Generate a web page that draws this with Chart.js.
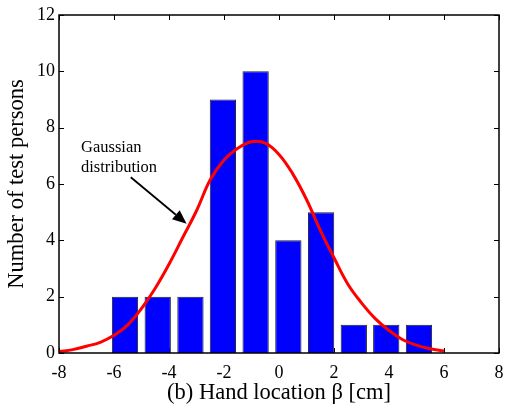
<!DOCTYPE html>
<html>
<head>
<meta charset="utf-8">
<script src="https://cdn.jsdelivr.net/npm/chart.js@4.4.1/dist/chart.umd.min.js"></script>
<style>
  html, body { margin: 0; padding: 0; background: #fff; }
  #wrap { width: 506px; height: 407px; }
</style>
</head>
<body>
<div id="wrap"><canvas id="myChart"></canvas></div>
<script>
// histogram bins (bin centres in cm) and counts
const binCenters = [-5.6, -4.41, -3.22, -2.04, -0.85, 0.34, 1.53, 2.72, 3.9, 5.09]
const personCounts = [2, 2, 2, 9, 10, 4, 5, 1, 1, 1]

// fitted gaussian
const curveX = [-8, -7.5, -7, -6.5, -6, -5.5, -5, -4.5, -4, -3.5, -3, -2.5, -2, -1.5, -1, -0.5, 0, 0.5, 1, 1.5, 2, 2.5, 3, 3.5, 4, 4.5, 5, 5.5, 6]
const curveY = [0.05, 0.12, 0.24, 0.38, 0.63, 1.0, 1.58, 2.3, 3.15, 4.1, 5.05, 6.15, 6.85, 7.27, 7.5, 7.45, 7.05, 6.36, 5.45, 4.36, 3.38, 2.45, 1.78, 1.22, 0.8, 0.47, 0.28, 0.15, 0.07]

const xTicks = [-8, -6, -4, -2, 0, 2, 4, 6, 8]
const yTicks = [0, 2, 4, 6, 8, 10, 12]

const noteLines = ["Gaussian", "distribution"]
const notePos = { x: -7.2, y: 7.12, dy: 0.7 }
const arrowFrom = { x: -5.39, y: 6.24 }
const arrowTo = { x: -3.36, y: 4.59 }

Chart.defaults.font.family = "'Liberation Serif', 'Times New Roman', serif"
Chart.defaults.color = "#000"

// inward ticks on all four sides, frame box and the annotation
const tickMarks = {
  id: "tickMarks",
  beforeDatasetsDraw(chart) {
    const { ctx, chartArea: a, scales } = chart
    ctx.save()
    ctx.strokeStyle = "#000"
    ctx.lineWidth = 1
    const len = 5
    xTicks.forEach(v => {
      const px = Math.round(scales.x.getPixelForValue(v)) + 0.5
      ctx.beginPath()
      ctx.moveTo(px, a.bottom); ctx.lineTo(px, a.bottom - len)
      ctx.moveTo(px, a.top); ctx.lineTo(px, a.top + len)
      ctx.stroke()
    })
    yTicks.forEach(v => {
      const py = Math.round(scales.y.getPixelForValue(v)) + 0.5
      ctx.beginPath()
      ctx.moveTo(a.left, py); ctx.lineTo(a.left + len, py)
      ctx.moveTo(a.right, py); ctx.lineTo(a.right - len, py)
      ctx.stroke()
    })
    ctx.restore()
  },
  afterDatasetsDraw(chart) {
    const { ctx, chartArea: a, scales } = chart
    ctx.save()
    ctx.strokeStyle = "#000"
    ctx.lineWidth = 1.5
    ctx.strokeRect(a.left, a.top, a.right - a.left, a.bottom - a.top)

    ctx.fillStyle = "#000"
    ctx.font = "16.5px 'Liberation Serif', serif"
    ctx.textAlign = "left"
    ctx.textBaseline = "alphabetic"
    noteLines.forEach((t, i) => {
      ctx.fillText(t, scales.x.getPixelForValue(notePos.x), scales.y.getPixelForValue(notePos.y - i * notePos.dy))
    })

    const x1 = scales.x.getPixelForValue(arrowFrom.x), y1 = scales.y.getPixelForValue(arrowFrom.y)
    const x2 = scales.x.getPixelForValue(arrowTo.x), y2 = scales.y.getPixelForValue(arrowTo.y)
    const ang = Math.atan2(y2 - y1, x2 - x1)
    const head = 14, wing = 6
    ctx.lineWidth = 1.8
    ctx.beginPath()
    ctx.moveTo(x1, y1)
    ctx.lineTo(x2 - head * Math.cos(ang), y2 - head * Math.sin(ang))
    ctx.stroke()
    ctx.beginPath()
    ctx.moveTo(x2, y2)
    ctx.lineTo(x2 - head * Math.cos(ang) + wing * Math.sin(ang), y2 - head * Math.sin(ang) - wing * Math.cos(ang))
    ctx.lineTo(x2 - head * Math.cos(ang) - wing * Math.sin(ang), y2 - head * Math.sin(ang) + wing * Math.cos(ang))
    ctx.closePath()
    ctx.fill()
    ctx.restore()
  }
}

const ctx = document.getElementById("myChart").getContext("2d")
const chart = new Chart(ctx, {
  data: {
    datasets: [
      {
        type: "line",
        data: curveX.map((x, i) => ({ x: x, y: curveY[i] })),
        borderColor: "#ff0000",
        borderWidth: 3,
        pointRadius: 0,
        tension: 0.4,
        fill: false,
        order: 0
      },
      {
        type: "bar",
        data: binCenters.map((x, i) => ({ x: x, y: personCounts[i] })),
        backgroundColor: "#0000ff",
        borderColor: "#222222",
        borderWidth: 1,
        categoryPercentage: 1,
        barPercentage: 0.81,
        order: 1
      }
    ]
  },
  options: {
    responsive: true,
    maintainAspectRatio: false,
    animation: false,
    layout: { padding: { top: 15, right: 7, left: 0, bottom: 0 } },
    plugins: { legend: { display: false }, tooltip: { enabled: false } },
    scales: {
      x: {
        type: "linear",
        offset: false,
        min: -8, max: 8,
        afterBuildTicks: s => { s.ticks = xTicks.map(v => ({ value: v })) },
        afterFit: s => { s.height = 54; s.paddingRight = 0; s.paddingLeft = 0 },
        grid: { display: false, drawTicks: false, offset: false },
        border: { display: false },
        ticks: { padding: 9, font: { size: 18 }, color: "#000", callback: v => String(v) },
        title: { display: true, text: "(b) Hand location β [cm]", font: { size: 22.5 }, color: "#000", padding: { top: 0, bottom: 0 } }
      },
      y: {
        type: "linear",
        min: 0, max: 12,
        afterBuildTicks: s => { s.ticks = yTicks.map(v => ({ value: v })) },
        afterFit: s => { s.width = 59; s.paddingTop = 0; s.paddingBottom = 0 },
        grid: { display: false, drawTicks: false },
        border: { display: false },
        ticks: { padding: 4, font: { size: 18 }, color: "#000", callback: v => String(v) },
        title: { display: true, text: "Number of test persons", font: { size: 22.5 }, color: "#000", padding: { top: 4, bottom: 0 } }
      }
    }
  },
  plugins: [tickMarks]
})
</script>
</body>
</html>
